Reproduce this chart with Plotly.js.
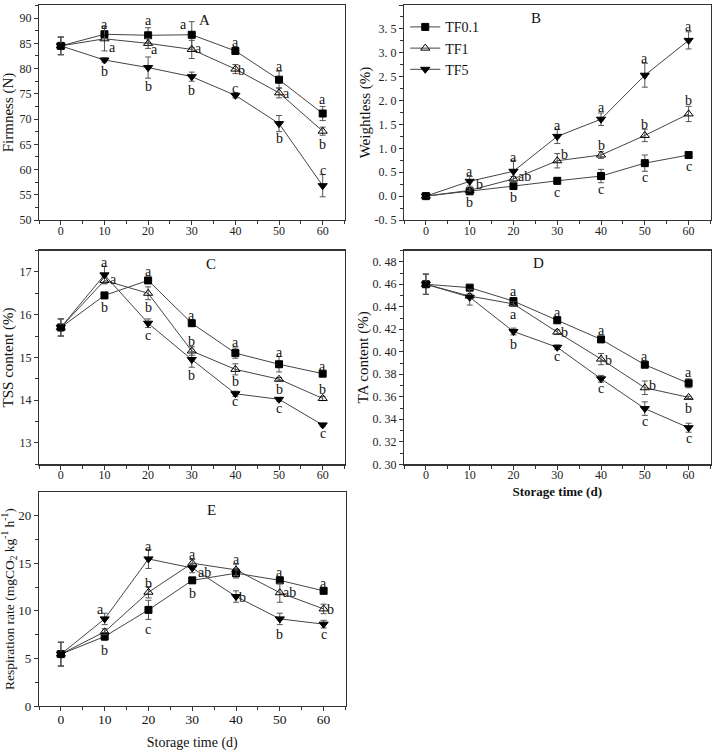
<!DOCTYPE html>
<html><head><meta charset="utf-8">
<script src="https://cdn.plot.ly/plotly-3.0.1.min.js"></script>
<style>html,body{margin:0;padding:0;background:#fff}#chart{width:716px;height:754px}</style>
</head><body><div id="chart"></div>
<script>
// ---- data ----
const days = [0, 10, 20, 30, 40, 50, 60];
const seriesNames = ['TF0.1', 'TF1', 'TF5'];

// A: Firmness (N)
const firmTF01 = [84.5, 86.8, 86.6, 86.7, 83.5, 77.8, 71.1];
const firmTF01Err = [1.75, 0.6, 1.5, 2.6, 0.7, 1.7, 1.4];
const firmTF1 = [84.5, 85.9, 85.0, 83.8, 79.9, 75.2, 67.6];
const firmTF1Err = [1.75, 2.4, 1.0, 1.8, 0.9, 1.0, 0.8];
const firmTF5 = [84.5, 81.7, 80.2, 78.4, 74.7, 69.1, 56.8];
const firmTF5Err = [1.75, 0.4, 2.1, 0.9, 0.5, 1.6, 2.2];

// B: Weightless (%)
const wTF01 = [0, 0.10, 0.21, 0.32, 0.42, 0.69, 0.86];
const wTF01Err = [0.03, 0.03, 0.05, 0.07, 0.14, 0.17, 0.05];
const wTF1 = [0, 0.12, 0.36, 0.74, 0.86, 1.27, 1.72];
const wTF1Err = [0.03, 0.04, 0.05, 0.15, 0.07, 0.13, 0.16];
const wTF5 = [0, 0.31, 0.52, 1.25, 1.61, 2.53, 3.26];
const wTF5Err = [0.03, 0.10, 0.23, 0.15, 0.13, 0.25, 0.18];

// C: TSS content (%)
const tssTF01 = [15.70, 16.45, 16.80, 15.80, 15.10, 14.84, 14.62];
const tssTF01Err = [0.2, 0.04, 0.05, 0.06, 0.12, 0.18, 0.05];
const tssTF1 = [15.70, 16.80, 16.50, 15.15, 14.72, 14.49, 14.04];
const tssTF1Err = [0.2, 0.08, 0.15, 0.1, 0.13, 0.04, 0.05];
const tssTF5 = [15.70, 16.93, 15.80, 14.95, 14.15, 14.02, 13.42];
const tssTF5Err = [0.2, 0.2, 0.1, 0.18, 0.06, 0.04, 0.04];

// D: TA content (%)
const taTF01 = [0.460, 0.457, 0.445, 0.428, 0.411, 0.3885, 0.372];
const taTF01Err = [0.009, 0.001, 0.003, 0.002, 0.002, 0.002, 0.004];
const taTF1 = [0.460, 0.4495, 0.4425, 0.4175, 0.3935, 0.368, 0.3595];
const taTF1Err = [0.009, 0.002, 0.002, 0.002, 0.005, 0.006, 0.001];
const taTF5 = [0.460, 0.4485, 0.418, 0.404, 0.376, 0.3495, 0.3325];
const taTF5Err = [0.009, 0.007, 0.003, 0.002, 0.003, 0.006, 0.004];

// E: Respiration rate
const respTF01 = [5.45, 7.3, 10.1, 13.2, 13.95, 13.2, 12.1];
const respTF01Err = [1.25, 0.4, 1.0, 0.3, 0.5, 0.3, 0.3];
const respTF1 = [5.45, 7.8, 11.95, 15.0, 14.3, 11.9, 10.2];
const respTF1Err = [1.25, 0.3, 0.6, 0.4, 0.6, 1.0, 0.5];
const respTF5 = [5.45, 9.15, 15.45, 14.5, 11.5, 9.15, 8.6];
const respTF5Err = [1.25, 0.6, 1.0, 0.5, 0.6, 0.6, 0.4];

// significance letters [day, value-level, text]
const lettersA = [[10,88.7,'a'],[20,89.5,'a'],[28.2,88.7,'a'],[40,85.2,'a'],[50,80.5,'a'],[60,73.8,'a'],
  [11.8,84.2,'a'],[21.5,83.7,'a'],[31.6,83.9,'a'],[41.5,79.6,'b'],[51.6,75.0,'a'],[60,65.0,'b'],
  [10,79.4,'b'],[20,76.4,'b'],[30,75.6,'b'],[40,76.1,'c'],[50,66.2,'b'],[60,59.9,'c']];
const lettersB = [[10,0.52,'a'],[20,0.80,'a'],[30,1.48,'a'],[40,1.85,'a'],[50,2.88,'a'],[60,3.54,'a'],
  [12.3,0.24,'b'],[22.6,0.41,'ab'],[31.7,0.87,'b'],[40,1.06,'b'],[50,1.5,'b'],[60,2.01,'b'],
  [10,-0.14,'b'],[20,-0.03,'b'],[30,0.075,'c'],[40,0.145,'c'],[50,0.38,'c'],[60,0.62,'c']];
const lettersC = [[10,17.23,'a'],[12.0,16.83,'a'],[10,16.16,'b'],[20,17.0,'a'],[20,16.17,'b'],[20,15.52,'c'],
  [30,15.99,'a'],[30,15.38,'b'],[30,14.58,'b'],[40,15.35,'a'],[40,14.44,'b'],[40,13.97,'c'],
  [50,15.11,'a'],[50,14.26,'b'],[50,13.8,'c'],[60,14.79,'a'],[60,14.24,'b'],[60,13.21,'c']];
const lettersD = [[20,0.4534,'a'],[20,0.4328,'a'],[20,0.4062,'b'],[30,0.4351,'a'],[31.7,0.4174,'b'],[30,0.3959,'c'],
  [40,0.4189,'a'],[41.8,0.392,'b'],[40,0.3673,'c'],[50,0.3959,'a'],[51.8,0.3702,'b'],[50,0.3378,'c'],
  [60,0.3817,'a'],[60,0.3496,'b'],[60,0.3227,'c']];
const lettersE = [[9.1,10.19,'a'],[10,5.88,'b'],[20,16.8,'a'],[20,12.9,'b'],[20,8.0,'c'],
  [30,15.87,'a'],[32.7,14.05,'ab'],[30,11.84,'b'],[40,15.34,'a'],[41.5,11.38,'b'],
  [50,14.05,'a'],[52.3,11.9,'ab'],[50,7.53,'b'],[60,12.82,'a'],[61.5,10.16,'b'],[60,7.46,'c']];
const panelLabels = [['A',33.0,89.7],['B',25.1,3.72],['C',34.3,17.19],['D',25.8,0.4785],['E',34.5,20.6]];

const bTickVals = [-0.5,0,0.5,1,1.5,2,2.5,3,3.5,4];
const bTickText = ['-0. 5','0. 0','0. 5','1. 0','1. 5','2. 0','2. 5','3. 0','3. 5','4. 0'];
const dTickVals = [0.30,0.32,0.34,0.36,0.38,0.40,0.42,0.44,0.46,0.48];
const dTickText = ['0. 30','0. 32','0. 34','0. 36','0. 38','0. 40','0. 42','0. 44','0. 46','0. 48'];

// ---- build ----
const FONT = 'Liberation Serif, Times New Roman, serif';
const symbols = ['square', 'triangle-up-open', 'triangle-down'];
const traces = [];
function addPanel(sets, xa, ya, legend) {
  sets.forEach((s, i) => {
    traces.push({
      x: days, y: s[0], xaxis: xa, yaxis: ya, type: 'scatter', mode: 'lines+markers',
      name: seriesNames[i], showlegend: legend, legendgroup: seriesNames[i],
      line: {color: '#444', width: 1},
      marker: {symbol: symbols[i], size: i === 0 ? 7 : 8, color: '#000', line: {color: '#000', width: 1}},
      error_y: {type: 'data', array: s[1], visible: true, color: '#555', thickness: 1, width: 3}
    });
  });
}
addPanel([[firmTF01, firmTF01Err],[firmTF1, firmTF1Err],[firmTF5, firmTF5Err]], 'x', 'y', false);
addPanel([[wTF01, wTF01Err],[wTF1, wTF1Err],[wTF5, wTF5Err]], 'x2', 'y2', true);
addPanel([[tssTF01, tssTF01Err],[tssTF1, tssTF1Err],[tssTF5, tssTF5Err]], 'x3', 'y3', false);
addPanel([[taTF01, taTF01Err],[taTF1, taTF1Err],[taTF5, taTF5Err]], 'x4', 'y4', false);
addPanel([[respTF01, respTF01Err],[respTF1, respTF1Err],[respTF5, respTF5Err]], 'x5', 'y5', false);

const W = 716, H = 754;
function dom(a, b, total) { return [a / total, b / total]; }
function ydom(top, bottom) { return [1 - bottom / H, 1 - top / H]; }
const axBase = {
  showline: true, linecolor: '#333', linewidth: 1.2, mirror: true, ticks: 'outside', ticklen: 4,
  tickcolor: '#333', showgrid: false, zeroline: false, tickfont: {family: FONT, size: 12, color: '#222'}
};
function xax(d, anchor, extra) {
  return Object.assign({}, axBase, {domain: d, anchor: anchor, range: [-5, 65], tickvals: days,
    ticklabelstandoff: -5,
    minor: {dtick: 5, tick0: 0, ticks: 'outside', ticklen: 3, tickcolor: '#333'}}, extra || {});
}
function yax(d, anchor, range, dtick, minorDtick, extra) {
  return Object.assign({}, axBase, {domain: d, anchor: anchor, range: range, dtick: dtick,
    minor: {dtick: minorDtick, ticks: 'outside', ticklen: 3, tickcolor: '#333'}}, extra || {});
}
const xL = dom(39, 344.5, W), xR = dom(404, 710.5, W);
const yTop = ydom(5, 220), yMid = ydom(250.5, 464.3), yBot = ydom(492.3, 706);
const titleFont = {family: FONT, size: 15, color: '#111'};

const layout = {
  width: W, height: H, margin: {l: 0, r: 0, t: 0, b: 0}, paper_bgcolor: '#fff', plot_bgcolor: '#fff',
  showlegend: true,
  legend: {x: 0.566, y: 0.985, xanchor: 'left', yanchor: 'top', bgcolor: 'rgba(0,0,0,0)',
    font: {family: FONT, size: 14, color: '#111'}, itemwidth: 30, tracegroupgap: 0},
  xaxis: xax(xL, 'y'),
  yaxis: yax(yTop, 'x', [50, 92.6], 5, 2.5, {title: {text: 'Firmness (N)', font: titleFont, standoff: 4}}),
  xaxis2: xax(xR, 'y2'),
  yaxis2: yax(yTop, 'x2', [-0.5, 4.0], 0.5, 0.25, {tickvals: bTickVals, ticktext: bTickText,
    title: {text: 'Weightless (%)', font: titleFont, standoff: 0}}),
  xaxis3: xax(xL, 'y3'),
  yaxis3: yax(yMid, 'x3', [12.5, 17.5], 1, 0.5, {tickvals: [13,14,15,16,17],
    title: {text: 'TSS content (%)', font: titleFont, standoff: 6}}),
  xaxis4: xax(xR, 'y4', {title: {text: '<b>Storage time (d)</b>', font: {family: FONT, size: 13, color: '#111'}, standoff: 6}}),
  yaxis4: yax(yMid, 'x4', [0.30, 0.49], 0.02, 0.01, {tickvals: dTickVals, ticktext: dTickText,
    title: {text: 'TA content (%)', font: titleFont, standoff: 0}}),
  xaxis5: xax(dom(39, 345.5, W), 'y5', {tickfont: {family: FONT, size: 13.5, color: '#111'}, ticklabelstandoff: -3,
    title: {text: 'Storage time (d)', font: {family: FONT, size: 14, color: '#111'}, standoff: 10}}),
  yaxis5: yax(yBot, 'x5', [0, 22.45], 5, 2.5, {tickvals: [0,5,10,15,20], tickfont: {family: FONT, size: 13, color: '#222'},
    title: {text: 'Respiration rate (mgCO<sub>2</sub> kg<sup>-1</sup> h<sup>-1</sup>)', font: {family: FONT, size: 13.5, color: '#111'}, standoff: 2}}),
  annotations: []
};
function addLetters(arr, xr, yr) {
  arr.forEach(l => layout.annotations.push({x: l[0], y: l[1], text: l[2], xref: xr, yref: yr,
    showarrow: false, font: {family: FONT, size: 14, color: '#111'}}));
}
addLetters(lettersA, 'x', 'y');
addLetters(lettersB, 'x2', 'y2');
addLetters(lettersC, 'x3', 'y3');
addLetters(lettersD, 'x4', 'y4');
addLetters(lettersE, 'x5', 'y5');
const refs = [['x','y'],['x2','y2'],['x3','y3'],['x4','y4'],['x5','y5']];
panelLabels.forEach((p, i) => layout.annotations.push({x: p[1], y: p[2], text: p[0], xref: refs[i][0], yref: refs[i][1],
  showarrow: false, font: {family: FONT, size: 15, color: '#111'}}));

Plotly.newPlot('chart', traces, layout, {staticPlot: true, displayModeBar: false});
</script>
</body></html>
